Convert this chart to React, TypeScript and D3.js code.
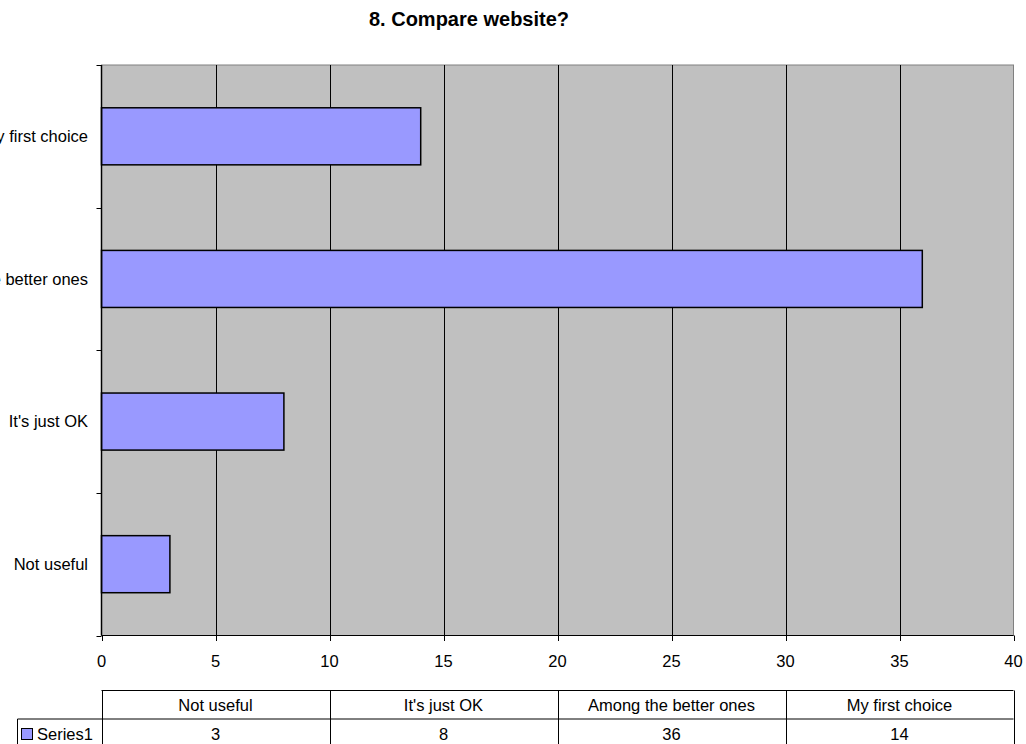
import React from "react";
import * as d3 from "d3";

// Survey answers to "Compare website?"
const categories: string[] = ["Not useful", "It's just OK", "Among the better ones", "My first choice"];
const series1: number[] = [3, 8, 36, 14];
const seriesName = "Series1";
const xTicks: number[] = [0, 5, 10, 15, 20, 25, 30, 35, 40];
const title = "8. Compare website?";

const W = 1026;
const H = 744;
const FONT = "'Liberation Sans', Arial, Helvetica, sans-serif";
const BAR_FILL = "#9999FF";
const PLOT_FILL = "#C0C0C0";

export default function App() {
  const left = 101.5;
  const right = 1013.5;
  const top = 65;
  const bottom = 635.5;

  const x = d3.scaleLinear().domain([0, 40]).range([left, right]);
  // top-to-bottom order is the reverse of the data order
  const y = d3
    .scaleBand<string>()
    .domain([...categories].reverse())
    .range([top, bottom])
    .padding(0);
  const bw = y.bandwidth();
  const barH = bw * 0.4;

  // data table columns share the plot's horizontal extent
  const col = d3.scaleBand<string>().domain(categories).range([left, right]);

  const tableTop = 690.5;
  const rowH = 28.5;
  const row2 = tableTop + rowH;
  const tableBottom = row2 + rowH + 4;
  const legendLeft = 17.5;

  const boundaries = [top, ...categories.map((c) => (y(c) as number) + bw)];

  return (
    <div style={{ position: "fixed", left: 0, top: 0 }}>
      <svg width={W} height={H} style={{ display: "block", background: "#fff" }} fontFamily={FONT}>
        <text x={469} y={25.5} textAnchor="middle" fontWeight="bold" fontSize={20} fill="#000">
          {title}
        </text>

        {/* plot area */}
        <rect x={left} y={top} width={right - left} height={bottom - top} fill={PLOT_FILL} stroke="#808080" strokeWidth={1} />

        {/* vertical gridlines */}
        {xTicks.slice(1, -1).map((t) => (
          <line key={`g${t}`} x1={Math.round(x(t)) + 0.5} x2={Math.round(x(t)) + 0.5} y1={top} y2={bottom} stroke="#000" strokeWidth={1} />
        ))}

        {/* bars */}
        {categories.map((c, i) => {
          const cy = (y(c) as number) + bw / 2;
          return (
            <rect
              key={c}
              x={x(0)}
              y={cy - barH / 2}
              width={x(series1[i]) - x(0)}
              height={barH}
              fill={BAR_FILL}
              stroke="#000"
              strokeWidth={1.5}
            />
          );
        })}

        {/* category axis */}
        <line x1={left} x2={left} y1={top} y2={bottom} stroke="#000" strokeWidth={1.5} />
        {boundaries.map((b, i) => (
          <line key={`yt${i}`} x1={left - 5} x2={left} y1={Math.round(b) + 0.5} y2={Math.round(b) + 0.5} stroke="#000" strokeWidth={1} />
        ))}
        {categories.map((c) => (
          <text
            key={`yl${c}`}
            x={88}
            y={(y(c) as number) + bw / 2}
            dy="0.35em"
            textAnchor="end"
            fontSize={16.5}
            fill="#000"
          >
            {c}
          </text>
        ))}

        {/* value axis */}
        <line x1={left} x2={right} y1={bottom} y2={bottom} stroke="#000" strokeWidth={1} />
        {xTicks.map((t) => (
          <g key={`xt${t}`}>
            <line x1={Math.round(x(t)) + 0.5} x2={Math.round(x(t)) + 0.5} y1={bottom} y2={bottom + 5.5} stroke="#000" strokeWidth={1} />
            <text x={x(t)} y={667} textAnchor="middle" fontSize={16.5} fill="#000">
              {t}
            </text>
          </g>
        ))}

        {/* data table */}
        <g stroke="#000" strokeWidth={1} fill="none">
          <line x1={left} x2={right} y1={tableTop} y2={tableTop} />
          <line x1={legendLeft} x2={right} y1={row2} y2={row2} />
          <line x1={legendLeft} x2={legendLeft} y1={row2} y2={tableBottom} />
          {[...categories.map((c) => col(c) as number), right].map((cx, i) => (
            <line key={`tv${i}`} x1={Math.round(cx) + 0.5} x2={Math.round(cx) + 0.5} y1={tableTop} y2={tableBottom} />
          ))}
        </g>
        {categories.map((c, i) => (
          <g key={`tc${c}`}>
            <text x={(col(c) as number) + col.bandwidth() / 2} y={711} textAnchor="middle" fontSize={16.5} fill="#000">
              {c}
            </text>
            <text x={(col(c) as number) + col.bandwidth() / 2} y={739.5} textAnchor="middle" fontSize={16.5} fill="#000">
              {series1[i]}
            </text>
          </g>
        ))}
        <rect x={21.5} y={728.5} width={11} height={11} fill={BAR_FILL} stroke="#000" strokeWidth={1} />
        <text x={37} y={739.5} fontSize={16.5} fill="#000">
          {seriesName}
        </text>
      </svg>
    </div>
  );
}
